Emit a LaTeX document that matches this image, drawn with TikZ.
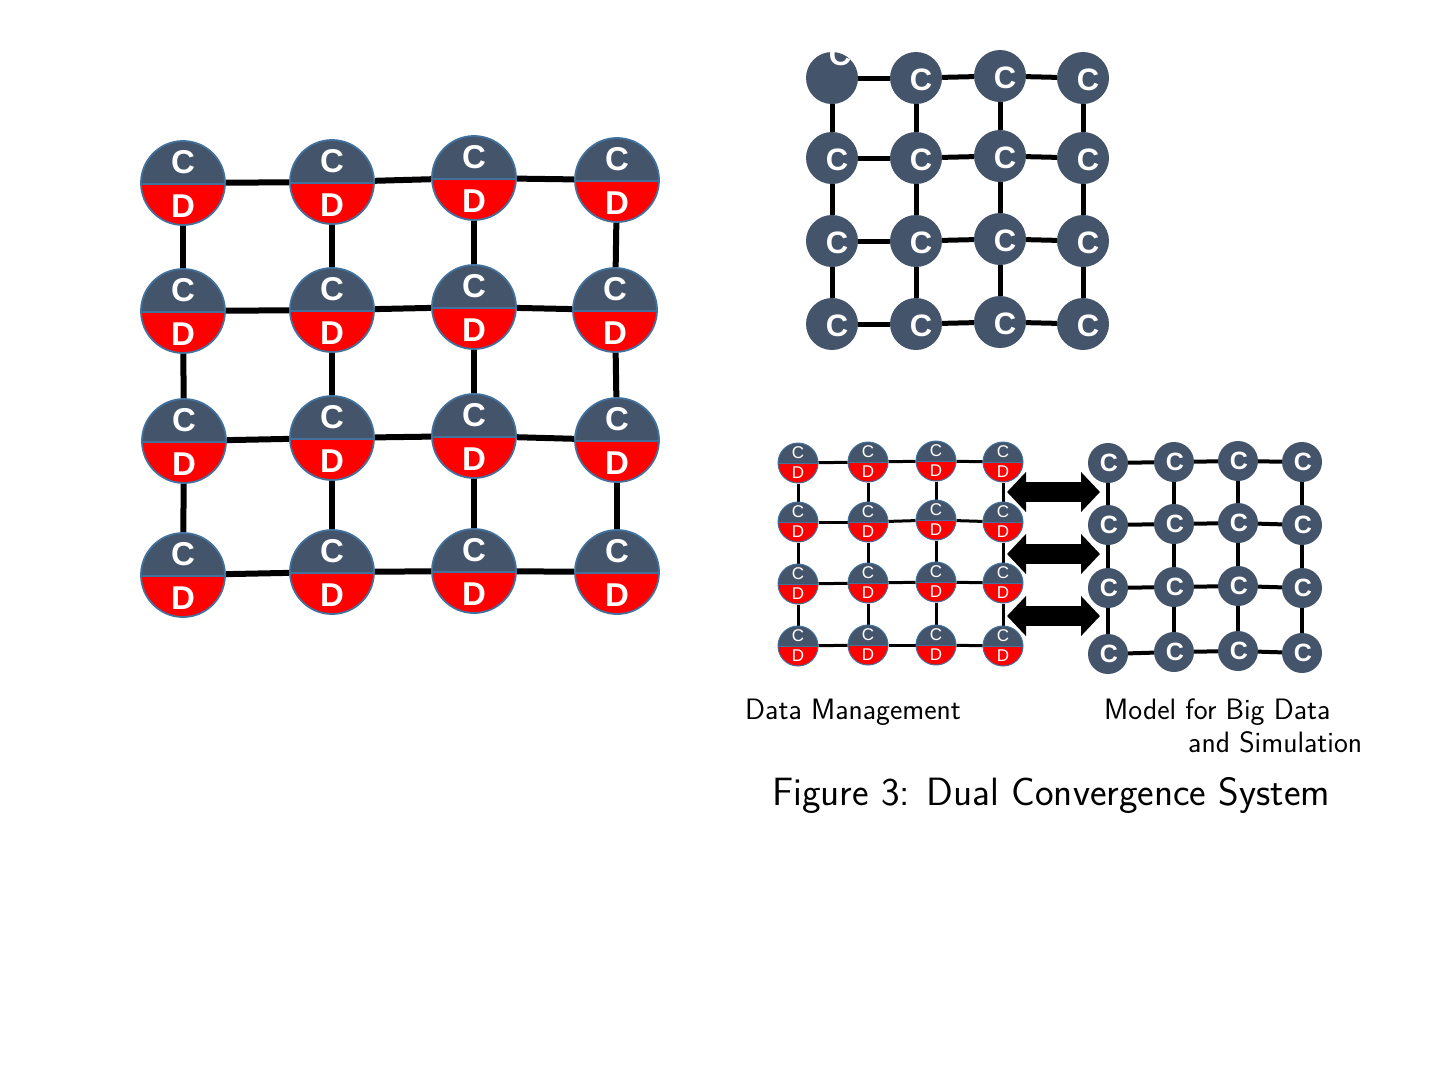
\documentclass[tikz,border=0pt]{standalone}
\usepackage{fontspec}
\newfontfamily\arialf{Liberation Sans}
\usetikzlibrary{calc,backgrounds,arrows.meta}
\definecolor{slate}{HTML}{44546A}
\definecolor{cdred}{HTML}{FF0000}
\definecolor{rim}{HTML}{41719C}
\tikzset{
  bigcd/.style={circle, fill=slate, draw=rim, line width=1.8pt, inner sep=0pt, minimum size=84pt,
    path picture={
      \fill[cdred] ([yshift=-1pt]path picture bounding box.west) rectangle (path picture bounding box.south east);
      \draw[rim, line width=1.8pt] ([yshift=-1pt]path picture bounding box.west) -- ([yshift=-1pt]path picture bounding box.east);}},
  smallcd/.style={circle, fill=slate, draw=rim, line width=1pt, inner sep=0pt, minimum size=40pt,
    path picture={
      \fill[cdred] (path picture bounding box.west) rectangle (path picture bounding box.south east);
      \draw[rim, line width=1pt] (path picture bounding box.west) -- (path picture bounding box.east);}},
  cnode/.style={circle, fill=slate, inner sep=0pt, minimum size=#1},
  bigletter/.style={text=white, inner sep=0pt, font=\arialf\bfseries\fontsize{33}{33}\selectfont},
  smallletter/.style={text=white, inner sep=0pt, font=\arialf\fontsize{17}{17}\selectfont},
  topletter/.style={text=white, inner sep=0pt, font=\arialf\bfseries\fontsize{31}{31}\selectfont},
  modletter/.style={text=white, inner sep=0pt, font=\arialf\bfseries\fontsize{25}{25}\selectfont},
  bigedge/.style={line width=6pt, black},
  topedge/.style={line width=5pt, black},
  smalledge/.style={line width=3pt, black},
  modedge/.style={line width=4pt, black},
  dblarrow/.style={line width=20pt, black,
    {Triangle[length=19pt 0 0, width=39pt 0]}-{Triangle[length=19pt 0 0, width=39pt 0]}},
  lbl/.style={inner sep=0pt, anchor=base west, font=\sffamily\fontsize{29.5}{29.5}\selectfont},
  figcap/.style={inner sep=0pt, anchor=base west, font=\sffamily\fontsize{39.5}{39.5}\selectfont}
}
\newcommand\bigcdnode[3]{%
  \node[bigcd] (#1) at (#2,#3) {};
  \node[bigletter] (#1-c) at ($(#1)+(0,-21)$) {C};
  \node[bigletter] (#1-d) at ($(#1)+(0,23)$) {D};}
\newcommand\smallcdnode[3]{%
  \node[smallcd] (#1) at (#2,#3) {};
  \node[smallletter] (#1-c) at ($(#1)+(0,-10)$) {C};
  \node[smallletter] (#1-d) at ($(#1)+(0,10)$) {D};}
\newcommand\topcnode[5]{%
  \node[cnode=52pt] (#1) at (#2,#3) {};
  \node[topletter] (#1-c) at ($(#1)+(#4,#5)$) {C};}
\newcommand\modcnode[3]{%
  \node[cnode=40pt] (#1) at (#2,#3) {};
  \node[modletter] (#1-c) at ($(#1)+(1,0)$) {C};}
\begin{document}
\begin{tikzpicture}[x=1pt,y=-1pt]
\useasboundingbox (0,0) rectangle (1440,1080);
\begin{scope}[on background layer]
  \fill[white] (0,0) rectangle (1440,1080);
\end{scope}
% big C/D grid
\foreach \n/\px/\py in {b11/183/183, b12/332/182, b13/474/178, b14/617/180,
                        b21/183/311, b22/332/310, b23/474/307, b24/615/310,
                        b31/184/441, b32/332/438, b33/474/436, b34/617/440,
                        b41/183/575, b42/332/572, b43/474/571, b44/617/572}
  {\bigcdnode{\n}{\px}{\py}}
% top C grid
\foreach \n/\px/\py in {t12/916/78, t13/1000/76, t14/1083/78,
                        t21/832/158, t22/916/158, t23/1000/156, t24/1083/158,
                        t31/832/241, t32/916/241, t33/1000/239, t34/1083/241,
                        t41/832/324, t42/916/324, t43/1000/322, t44/1083/324}
  {\topcnode{\n}{\px}{\py}{5}{2}}
\topcnode{t11}{832}{78}{8}{-23}
% small C/D grid
\foreach \n/\px/\py in {s11/798/463, s12/868/462, s13/936/461, s14/1003/462,
                        s21/798/522, s22/868/522, s23/936/520, s24/1003/522,
                        s31/798/584, s32/868/583, s33/936/582, s34/1003/583,
                        s41/798/646, s42/868/645, s43/936/645, s44/1003/646}
  {\smallcdnode{\n}{\px}{\py}}
% model C grid
\foreach \n/\px/\py in {m11/1108/463, m12/1174/462, m13/1238/461, m14/1302/462,
                        m21/1108/525, m22/1174/524, m23/1238/523, m24/1302/525,
                        m31/1108/588, m32/1174/587, m33/1238/586, m34/1302/588,
                        m41/1108/654, m42/1174/652, m43/1238/651, m44/1302/653}
  {\modcnode{\n}{\px}{\py}}
% edges
\begin{scope}[on background layer]
  \foreach \g/\st in {b/bigedge, t/topedge, s/smalledge, m/modedge}{
    \foreach \r in {1,...,4}{
      \foreach \c/\d in {1/2,2/3,3/4}{
        \draw[\st] (\g\r\c) -- (\g\r\d);
        \draw[\st] (\g\c\r) -- (\g\d\r);
      }
    }
  }
\end{scope}
% double arrows
\coordinate (a1l) at (1007,492); \coordinate (a1r) at (1100,492);
\coordinate (a2l) at (1007,554); \coordinate (a2r) at (1100,554);
\coordinate (a3l) at (1007,616); \coordinate (a3r) at (1100,616);
\draw[dblarrow] (a1l) -- (a1r);
\draw[dblarrow] (a2l) -- (a2r);
\draw[dblarrow] (a3l) -- (a3r);
% labels
\node[lbl] (dm) at (745,719) {Data Management};
\node[lbl] (mb1) at (1104,719) {Model for Big Data};
\node[lbl] (mb2) at (1188,752) {and Simulation};
\node[figcap] (fig) at (772,805) {Figure 3: Dual Convergence System};
\end{tikzpicture}
\end{document}
